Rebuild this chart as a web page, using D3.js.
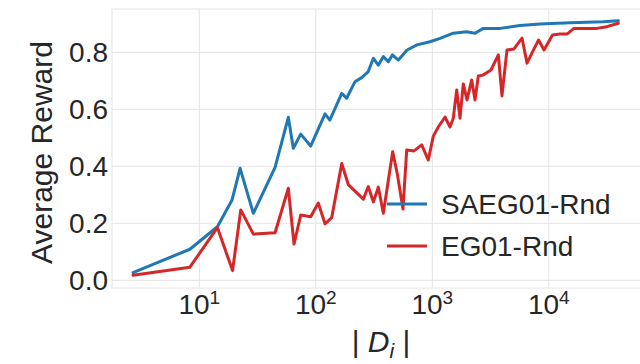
<!DOCTYPE html>
<html>
<head>
<meta charset="utf-8">
<script src="https://cdn.jsdelivr.net/npm/d3@7"></script>
<style>
  html, body { margin: 0; padding: 0; background: #fff; }
  svg { display: block; font-family: "Liberation Sans", Arial, sans-serif; }
</style>
</head>
<body>
<svg id="chart" width="640" height="364"></svg>
<script>
// |D_i| and average reward
const saegX = [2.7, 8.3, 14.3, 19.1, 22.4, 29.1, 44.7, 58.1, 64.1, 74.2, 90.4, 120, 132, 167, 184,
  217, 249, 281, 312, 344, 380, 419, 455, 511, 607, 739, 955, 1165, 1514, 1974, 2326, 2740,
  3812, 5660, 8400, 15200, 29200, 39500];
const saegY = [0.027, 0.109, 0.188, 0.282, 0.393, 0.235, 0.396, 0.572, 0.463, 0.513, 0.471, 0.584,
  0.562, 0.656, 0.639, 0.697, 0.712, 0.731, 0.779, 0.755, 0.785, 0.767, 0.791, 0.773, 0.808,
  0.826, 0.837, 0.849, 0.867, 0.872, 0.867, 0.884, 0.884, 0.894, 0.899, 0.904, 0.907, 0.911];

const egX = [2.7, 8.3, 14.3, 19.3, 22.7, 29.1, 44.7, 58.1, 65, 74.2, 90.4, 105, 120, 137, 167, 190,
  256, 282, 312, 344, 380, 457, 501, 560, 603, 697, 811, 924, 1020, 1126, 1285, 1419, 1514,
  1620, 1729, 1845, 1986, 2178, 2326, 2483, 2723, 3190, 3688, 3963, 4375, 5025, 5548, 5890,
  6500, 7465, 8170, 9100, 10760, 12480, 14320, 16450, 20050, 25900, 31600, 39500];
const egY = [0.018, 0.046, 0.185, 0.034, 0.247, 0.162, 0.167, 0.323, 0.127, 0.229, 0.223, 0.271,
  0.198, 0.220, 0.410, 0.336, 0.285, 0.329, 0.275, 0.327, 0.235, 0.451, 0.373, 0.250, 0.457,
  0.454, 0.475, 0.422, 0.506, 0.538, 0.573, 0.538, 0.569, 0.668, 0.569, 0.689, 0.633, 0.703,
  0.633, 0.717, 0.720, 0.738, 0.791, 0.647, 0.808, 0.812, 0.836, 0.850, 0.762, 0.812, 0.843,
  0.808, 0.861, 0.864, 0.864, 0.884, 0.884, 0.884, 0.890, 0.902];

const series = [
  { name: 'SAEG01-Rnd', color: '#1f77b4', xs: saegX, ys: saegY },
  { name: 'EG01-Rnd', color: '#d62728', xs: egX, ys: egY },
];

const xTickExp = [1, 2, 3, 4];
const yTicks = [0.0, 0.2, 0.4, 0.6, 0.8];

const svg = d3.select('#chart');
const L = 112, R = 642, T = 9, B = 288;

const x = d3.scaleLog().domain([Math.pow(10, 0.2506), Math.pow(10, 4.80)]).range([L, R]);
const y = d3.scaleLinear().domain([-0.027, 0.952]).range([B, T]);

// grid
const grid = svg.append('g').attr('stroke', '#e4e4e4').attr('stroke-width', 1);
grid.selectAll('.gx').data(xTickExp).join('line')
  .attr('x1', (d) => x(Math.pow(10, d))).attr('x2', (d) => x(Math.pow(10, d)))
  .attr('y1', T).attr('y2', B);
grid.selectAll('.gy').data(yTicks).join('line')
  .attr('x1', L).attr('x2', R)
  .attr('y1', (d) => y(d)).attr('y2', (d) => y(d));
// frame
svg.append('rect').attr('x', L).attr('y', T).attr('width', R - L).attr('height', B - T)
  .attr('fill', 'none').attr('stroke', '#e4e4e4').attr('stroke-width', 1);

// lines
const line = d3.line().x((d) => x(d[0])).y((d) => y(d[1]));
for (const s of series) {
  svg.append('path')
    .datum(s.xs.map((v, i) => [v, s.ys[i]]))
    .attr('d', line)
    .attr('fill', 'none')
    .attr('stroke', s.color)
    .attr('stroke-width', 3)
    .attr('stroke-linejoin', 'round')
    .attr('stroke-linecap', 'round');
}

// y tick labels
svg.append('g').selectAll('text').data(yTicks).join('text')
  .attr('x', L - 4).attr('y', (d) => y(d)).attr('dy', '0.36em')
  .attr('text-anchor', 'end')
  .attr('font-size', 28).attr('fill', '#262626')
  .text((d) => d.toFixed(1));

// x tick labels 10^n
const xl = svg.append('g').selectAll('text').data(xTickExp).join('text')
  .attr('x', (d) => x(Math.pow(10, d))).attr('y', 314)
  .attr('text-anchor', 'middle')
  .attr('font-size', 28).attr('fill', '#262626');
xl.append('tspan').text('10');
xl.append('tspan').attr('dy', -10).attr('font-size', 19).text((d) => d);

// axis titles
svg.append('text')
  .attr('transform', `translate(52,${(T + B) / 2 + 4}) rotate(-90)`)
  .attr('text-anchor', 'middle')
  .attr('font-size', 30).attr('fill', '#262626')
  .text('Average Reward');

const xt = svg.append('text')
  .attr('x', 381).attr('y', 352)
  .attr('text-anchor', 'middle')
  .attr('font-size', 30).attr('fill', '#262626');
xt.append('tspan').text('| ');
xt.append('tspan').attr('font-style', 'italic').text('D');
xt.append('tspan').attr('font-style', 'italic').attr('font-size', 21).attr('dy', 6).text('i');
xt.append('tspan').attr('dy', -6).text(' |');

// legend, no frame
const leg = svg.append('g').selectAll('g').data(series).join('g')
  .attr('transform', (d, i) => `translate(387,${204 + i * 42})`);
leg.append('line').attr('x1', 0).attr('x2', 40)
  .attr('stroke', (d) => d.color).attr('stroke-width', 3);
leg.append('text').attr('x', 54).attr('dy', '0.36em')
  .attr('font-size', 28).attr('fill', '#262626')
  .text((d) => d.name);
</script>
</body>
</html>
